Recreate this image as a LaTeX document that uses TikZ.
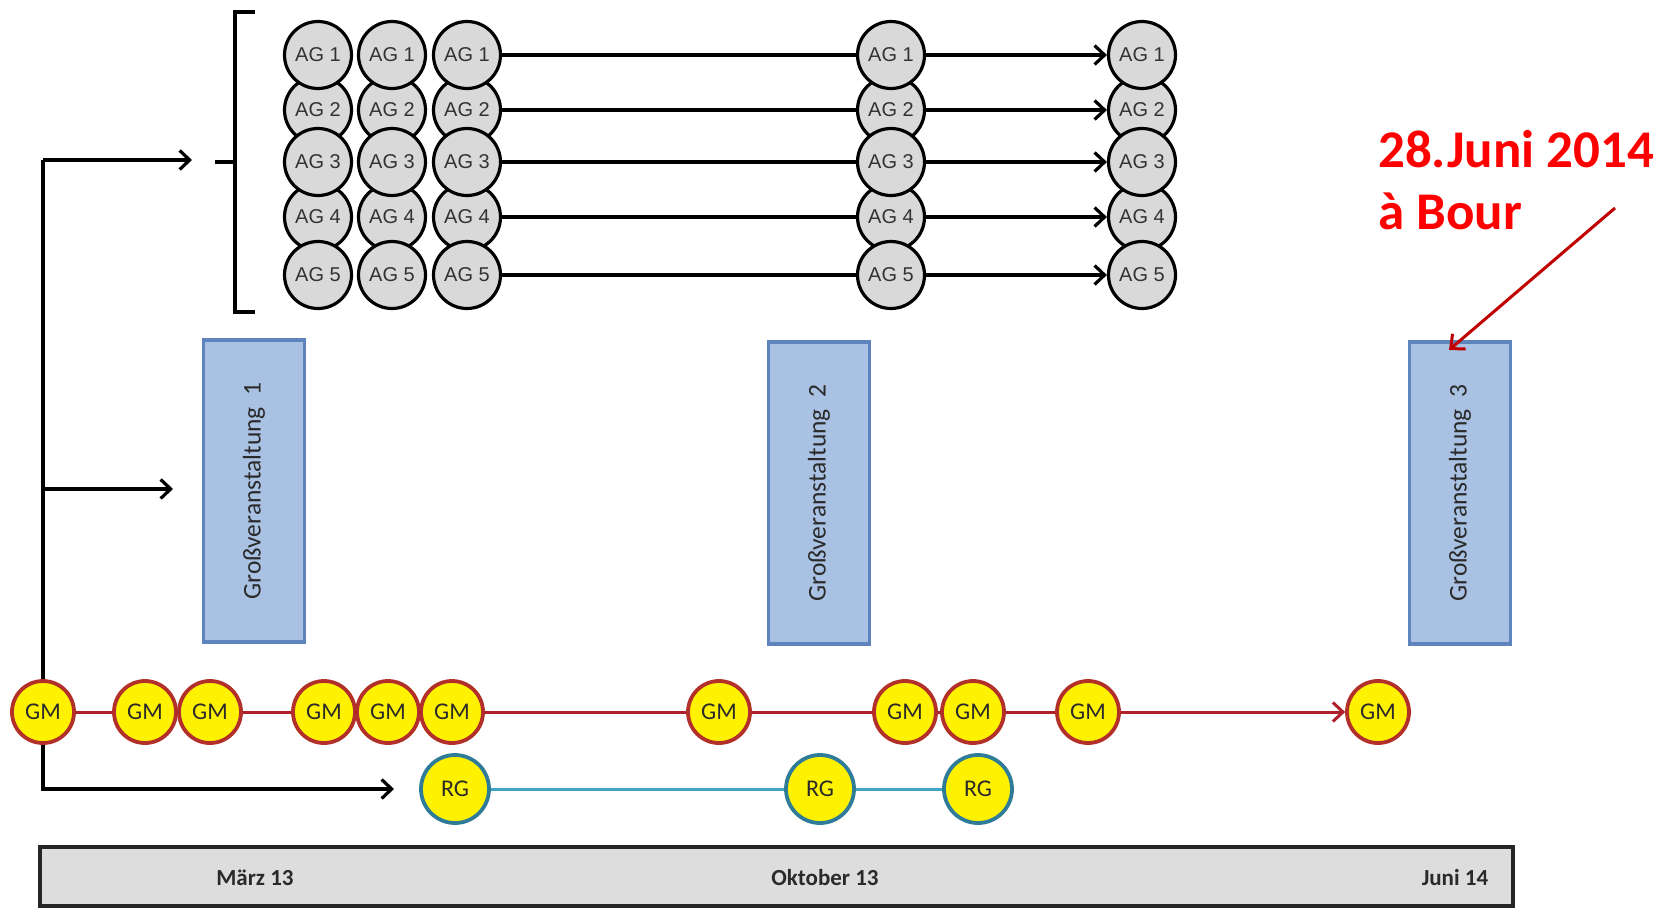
\documentclass[tikz,border=0pt]{standalone}
\usepackage{fontspec}
\setmainfont{Carlito}
\newfontfamily\agfont{Liberation Sans}
\usetikzlibrary{arrows.meta}
\definecolor{agfill}{HTML}{D9D9D9}
\definecolor{gmline}{HTML}{B0202A}
\definecolor{gmborder}{HTML}{B3302A}
\definecolor{rgblue}{HTML}{2F7C98}
\definecolor{rgline}{HTML}{3FA3C4}
\definecolor{boxfill}{HTML}{A9C1E2}
\definecolor{boxdraw}{HTML}{5E84BD}
\definecolor{txtdark}{HTML}{2A2A2A}
\definecolor{barfill}{HTML}{DDDDDD}
\definecolor{annred}{HTML}{FF0000}
\definecolor{arrred}{HTML}{C00000}
\begin{document}
\begin{tikzpicture}[x=1pt,y=-1pt,
  blk/.style={draw=black,line width=3.2pt},
  blktip/.style={blk,-{Straight Barb[length=10pt,width=19pt,line width=3.2pt]}},
  ag/.style={circle,draw=black,line width=3.2pt,fill=agfill,minimum size=67pt,inner sep=0pt,
    font=\agfont\fontsize{20}{20}\selectfont,text=black!80},
  gm/.style={circle,draw=gmborder,line width=3.8pt,fill=yellow,minimum size=62pt,inner sep=0pt,
    font=\fontsize{24}{24}\selectfont,text=txtdark},
  rg/.style={gm,draw=rgblue,minimum size=68pt},
  gmlink/.style={draw=gmline,line width=3pt},
  rglink/.style={draw=rgline,line width=3pt},
  gvbox/.style={rectangle,draw=boxdraw,line width=3.5pt,fill=boxfill,rotate=90,
    minimum width=302pt,minimum height=101pt,inner sep=0pt,
    font=\fontsize{25.5}{25.5}\selectfont,text=txtdark},
  bartext/.style={font=\bfseries\fontsize{23}{23}\selectfont,text=txtdark,inner sep=0pt},
  ann/.style={font=\bfseries\fontsize{53}{53}\selectfont,text=annred,inner sep=0pt,anchor=base west}
]
\useasboundingbox (0,0) rectangle (1671,908);

% bracket
\draw[blk] (255,12) -- (235,12) -- (235,312) -- (255,312);
\draw[blk] (215,162) -- (235,162);

% AG circles
\foreach \c/\x in {1/318,2/392,3/467,4/891,5/1142}{
  \foreach \r/\y in {2/110,4/217,1/55,3/162,5/275}{
    \node[ag] (ag\c\r) at (\x,\y) {AG \r};
  }
}
\foreach \r in {1,...,5}{
  \draw[blk] (ag3\r) -- (ag4\r);
  \draw[blktip] (ag4\r) -- (ag5\r);
}

% Grossveranstaltung boxes
\node[gvbox] (gv1) at (254,491) {Großveranstaltung\hspace{0.45em}1};
\node[gvbox] (gv2) at (819,493) {Großveranstaltung\hspace{0.45em}2};
\node[gvbox] (gv3) at (1460,493) {Großveranstaltung\hspace{0.45em}3};

% GM row
\foreach \i/\x in {1/43,2/145,3/210,4/324,5/388,6/452,7/719,8/905,9/973,10/1088,11/1378}{
  \node[gm] (gm\i) at (\x,712) {GM};
}
\foreach \i [evaluate=\i as \j using int(\i+1)] in {1,...,9}{
  \draw[gmlink] (gm\i) -- (gm\j);
}
\draw[gmlink,-{Straight Barb[length=10pt,width=19pt,line width=3pt]}] (gm10) -- (gm11);

% RG row
\node[rg] (rg1) at (455,789) {RG};
\node[rg] (rg2) at (820,789) {RG};
\node[rg] (rg3) at (978,789) {RG};
\draw[rglink] (rg1) -- (rg2);
\draw[rglink] (rg2) -- (rg3);

% black connectors
\coordinate (corner) at (43,160);
\coordinate (tipA) at (192,160);
\coordinate (midstart) at (43,489);
\coordinate (tipB) at (173,489);
\coordinate (tipC) at (394,789);
\draw[blk] (gm1) -- (corner);
\draw[blktip] (corner) -- (tipA);
\draw[blktip] (midstart) -- (tipB);
\draw[blktip] (gm1) |- (tipC);

% time bar
\node[rectangle,draw=black!85,line width=3.2pt,fill=barfill,minimum width=1473pt,minimum height=59pt,inner sep=0pt] (bar) at (776.5,876.5) {};
\node[bartext] (t1) at (255,878) {März 13};
\node[bartext] (t2) at (825,878) {Oktober 13};
\node[bartext] (t3) at (1455,878) {Juni 14};

% annotation
\node[ann] (ann1) at (1378,167) {28.Juni 2014};
\node[ann] (ann2) at (1378,229) {à Bour};
\coordinate (annstart) at (1615,208);
\coordinate (annend) at (1449,350);
\draw[arrred,line width=3pt,-{Straight Barb[length=11pt,width=20pt,line width=3pt]}] (annstart) -- (annend);
\end{tikzpicture}
\end{document}
